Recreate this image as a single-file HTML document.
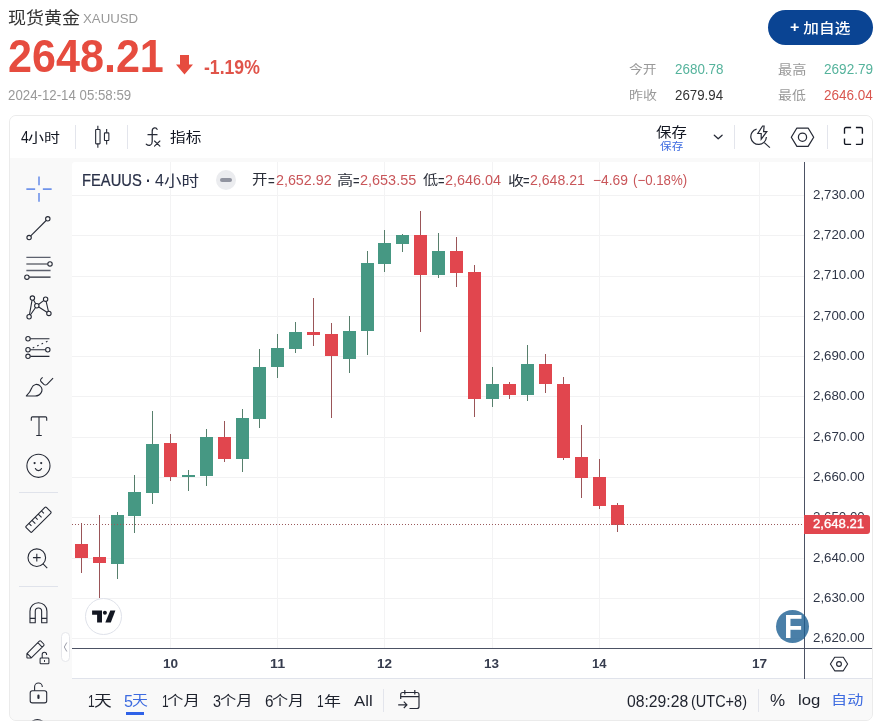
<!DOCTYPE html>
<html lang="zh-CN">
<head>
<meta charset="utf-8">
<title>现货黄金 XAUUSD</title>
<style>
*{box-sizing:border-box;margin:0;padding:0}
html,body{width:881px;height:728px;overflow:hidden;background:#fff}
body{position:relative;font-family:"Liberation Sans","Noto Sans CJK SC",sans-serif;color:#333}
.t{position:absolute;white-space:pre;transform-origin:0 0;display:block}
.btn{position:absolute;left:768px;top:10px;width:105px;height:35px;border-radius:18px;background:#0a4493}
.box{position:absolute;left:9px;top:115px;width:864px;height:606px;border:1px solid #ebebeb;border-radius:7px;background:#f9f9f9;overflow:hidden}
.tb{position:absolute;left:0;top:0;width:862px;height:42px;background:#fff}
.lt{position:absolute;left:0;top:46px;width:56px;height:560px;background:#f9f9f9;border-radius:0 4px 0 0}
.cp{position:absolute;left:62px;top:46px;width:800px;height:517px;background:#fff;border-radius:3px 0 0 0;border-bottom:1px solid #e0e3eb}
.bt{position:absolute;left:62px;top:563px;width:800px;height:42px;background:#f9f9f9}
.page{position:absolute;left:0;top:0;width:881px;height:728px;overflow:hidden}
.chart{position:absolute;left:72px;top:162px}
.ic{position:absolute;overflow:visible}
.sep{position:absolute;width:1px;background:#e3e5ec}
.hsep{position:absolute;height:1px;background:#e0e3eb}
.abs{position:absolute}
</style>
</head>
<body>
<div class="page">
<svg class="ic" style="left:176px;top:55px" width="17" height="20" viewBox="0 0 17 20"><path d="M4 0h9v9.500h4l-8.500 10L0 9.500h4z" fill="#e64c3f"/></svg>
<div class="btn"></div>

<div class="box">
 <div class="tb"></div>
 <div class="lt"></div>
 <div class="cp"></div>
 <div class="bt"></div>
</div>

<!-- toolbar separators -->
<div class="sep" style="left:75px;top:125px;height:24px"></div>
<div class="sep" style="left:127px;top:125px;height:24px"></div>
<div class="sep" style="left:734px;top:125px;height:24px"></div>
<div class="sep" style="left:827px;top:125px;height:24px"></div>
<div class="hsep" style="left:19px;top:492px;width:39px"></div>
<div class="hsep" style="left:19px;top:586px;width:39px"></div>
<div class="abs" style="left:61px;top:632px;width:9px;height:30px;border:1px solid #e6e7eb;border-radius:5px;background:#fff"></div>

<!-- chart -->
<svg class="chart" width="800" height="517" viewBox="72 162 800 517" shape-rendering="crispEdges">
<rect x="72" y="195" width="732" height="1" fill="#f2f2f3"/>
<rect x="72" y="235" width="732" height="1" fill="#f2f2f3"/>
<rect x="72" y="276" width="732" height="1" fill="#f2f2f3"/>
<rect x="72" y="316" width="732" height="1" fill="#f2f2f3"/>
<rect x="72" y="356" width="732" height="1" fill="#f2f2f3"/>
<rect x="72" y="396" width="732" height="1" fill="#f2f2f3"/>
<rect x="72" y="437" width="732" height="1" fill="#f2f2f3"/>
<rect x="72" y="477" width="732" height="1" fill="#f2f2f3"/>
<rect x="72" y="517" width="732" height="1" fill="#f2f2f3"/>
<rect x="72" y="558" width="732" height="1" fill="#f2f2f3"/>
<rect x="72" y="598" width="732" height="1" fill="#f2f2f3"/>
<rect x="72" y="638" width="732" height="1" fill="#f2f2f3"/>
<rect x="170" y="162" width="1" height="486" fill="#f3f3f4"/>
<rect x="277" y="162" width="1" height="486" fill="#f3f3f4"/>
<rect x="384" y="162" width="1" height="486" fill="#f3f3f4"/>
<rect x="492" y="162" width="1" height="486" fill="#f3f3f4"/>
<rect x="599" y="162" width="1" height="486" fill="#f3f3f4"/>
<rect x="759" y="162" width="1" height="486" fill="#f3f3f4"/>
<rect x="81" y="523" width="1" height="50" fill="#9a5558"/>
<rect x="75" y="544" width="13" height="14" fill="#e1464e"/>
<rect x="99" y="515" width="1" height="83" fill="#9a5558"/>
<rect x="93" y="557" width="13" height="6" fill="#e1464e"/>
<rect x="117" y="512" width="1" height="67" fill="#577f6c"/>
<rect x="111" y="515" width="13" height="49" fill="#469883"/>
<rect x="134" y="475" width="1" height="58" fill="#577f6c"/>
<rect x="128" y="492" width="13" height="24" fill="#469883"/>
<rect x="152" y="411" width="1" height="93" fill="#577f6c"/>
<rect x="146" y="444" width="13" height="49" fill="#469883"/>
<rect x="170" y="434" width="1" height="47" fill="#9a5558"/>
<rect x="164" y="443" width="13" height="34" fill="#e1464e"/>
<rect x="188" y="470" width="1" height="21" fill="#577f6c"/>
<rect x="182" y="475" width="13" height="2" fill="#469883"/>
<rect x="206" y="429" width="1" height="57" fill="#577f6c"/>
<rect x="200" y="437" width="13" height="39" fill="#469883"/>
<rect x="224" y="421" width="1" height="41" fill="#9a5558"/>
<rect x="218" y="437" width="13" height="22" fill="#e1464e"/>
<rect x="242" y="409" width="1" height="63" fill="#577f6c"/>
<rect x="236" y="418" width="13" height="41" fill="#469883"/>
<rect x="259" y="349" width="1" height="79" fill="#577f6c"/>
<rect x="253" y="367" width="13" height="52" fill="#469883"/>
<rect x="277" y="334" width="1" height="44" fill="#577f6c"/>
<rect x="271" y="348" width="13" height="19" fill="#469883"/>
<rect x="295" y="322" width="1" height="31" fill="#577f6c"/>
<rect x="289" y="332" width="13" height="17" fill="#469883"/>
<rect x="313" y="298" width="1" height="48" fill="#9a5558"/>
<rect x="307" y="332" width="13" height="3" fill="#e1464e"/>
<rect x="331" y="323" width="1" height="95" fill="#9a5558"/>
<rect x="325" y="334" width="13" height="22" fill="#e1464e"/>
<rect x="349" y="316" width="1" height="57" fill="#577f6c"/>
<rect x="343" y="331" width="13" height="28" fill="#469883"/>
<rect x="367" y="251" width="1" height="104" fill="#577f6c"/>
<rect x="361" y="263" width="13" height="68" fill="#469883"/>
<rect x="384" y="230" width="1" height="42" fill="#577f6c"/>
<rect x="378" y="243" width="13" height="21" fill="#469883"/>
<rect x="402" y="234" width="1" height="18" fill="#577f6c"/>
<rect x="396" y="235" width="13" height="9" fill="#469883"/>
<rect x="420" y="211" width="1" height="121" fill="#9a5558"/>
<rect x="414" y="235" width="13" height="40" fill="#e1464e"/>
<rect x="438" y="233" width="1" height="45" fill="#577f6c"/>
<rect x="432" y="251" width="13" height="24" fill="#469883"/>
<rect x="456" y="237" width="1" height="50" fill="#9a5558"/>
<rect x="450" y="251" width="13" height="22" fill="#e1464e"/>
<rect x="474" y="265" width="1" height="152" fill="#9a5558"/>
<rect x="468" y="272" width="13" height="127" fill="#e1464e"/>
<rect x="492" y="367" width="1" height="40" fill="#577f6c"/>
<rect x="486" y="384" width="13" height="15" fill="#469883"/>
<rect x="509" y="382" width="1" height="17" fill="#9a5558"/>
<rect x="503" y="384" width="13" height="11" fill="#e1464e"/>
<rect x="527" y="345" width="1" height="56" fill="#577f6c"/>
<rect x="521" y="364" width="13" height="31" fill="#469883"/>
<rect x="545" y="354" width="1" height="39" fill="#9a5558"/>
<rect x="539" y="364" width="13" height="20" fill="#e1464e"/>
<rect x="563" y="377" width="1" height="83" fill="#9a5558"/>
<rect x="557" y="384" width="13" height="74" fill="#e1464e"/>
<rect x="581" y="425" width="1" height="73" fill="#9a5558"/>
<rect x="575" y="457" width="13" height="21" fill="#e1464e"/>
<rect x="599" y="459" width="1" height="50" fill="#9a5558"/>
<rect x="593" y="477" width="13" height="29" fill="#e1464e"/>
<rect x="617" y="503" width="1" height="29" fill="#9a5558"/>
<rect x="611" y="505" width="13" height="20" fill="#e1464e"/>
<line x1="72" y1="524.5" x2="804" y2="524.5" stroke="#9a5a5c" stroke-width="1" stroke-dasharray="1 2"/>
<rect x="804" y="162" width="1" height="517" fill="#4c5264"/>
<rect x="72" y="648" width="800" height="1" fill="#4c5264"/>
</svg>

<!-- legend button -->
<div class="abs" style="left:216px;top:170px;width:20px;height:20px;border-radius:10px;background:#ebecef"></div>
<div class="abs" style="left:220px;top:178px;width:12px;height:4px;border-radius:2px;background:#9194a0"></div>



<!-- logos -->
<div class="abs" style="left:85px;top:597.5px;width:37px;height:37px;border-radius:19px;background:#fff;border:1.2px solid #dfe2ea"></div>
<svg class="ic" style="left:0;top:0" width="881" height="728" viewBox="0 0 881 728" fill="#131722"><path d="M92.100 610.600H102V622.600H97.100V614.800H92.100Z"/><circle cx="104.900" cy="612.800" r="2"/><path d="M110.300 610.600H115.400L110.800 622.600H105.300Z"/></svg>
<div class="abs" style="left:776px;top:610px;width:33px;height:33px;border-radius:17px;background:rgba(29,95,146,0.8)"></div>

<!-- bottom toolbar -->
<div class="abs" style="left:126px;top:712px;width:18px;height:3px;background:#2f62e8"></div>
<div class="sep" style="left:383px;top:689px;height:23px"></div>

<div class="sep" style="left:758px;top:689px;height:23px"></div>

<!-- icons -->
<svg class="ic" style="left:0;top:0" width="881" height="728" viewBox="0 0 881 728" fill="none" stroke="#262a36" stroke-linecap="butt" stroke-linejoin="round">
<g transform="translate(23.05 173.20) scale(1.1)" stroke-width="1.45" stroke="#6f93ea"><path d="M3 14.500h8M18 14.500h8M14.500 3v8M14.500 18v8"/></g>
<g transform="translate(23.05 212.80) scale(1.1)" stroke-width="1.0" ><path d="M7 21L21 7"/><circle cx="22.500" cy="5.500" r="2" fill="#f9f9f9"/><circle cx="5.500" cy="22.500" r="2" fill="#f9f9f9"/></g>
<g transform="translate(23.05 252.40) scale(1.1)" stroke-width="1.0" ><path d="M3 4.500h22M3 16.500h22" stroke="#5d616e" stroke-width="1.300"/><path d="M3 10.500h19.500M5.500 22.500h19.500"/><circle cx="24.500" cy="10.500" r="2" fill="#f9f9f9"/><circle cx="3.500" cy="22.500" r="2" fill="#f9f9f9"/></g>
<g transform="translate(23.05 292.00) scale(1.1)" stroke-width="1.0" ><path d="M5.500 22.500L8.500 5.500L12.500 12.500L20.500 6.500L23.500 19.500L12.500 12.500z"/><circle cx="8.500" cy="5.500" r="2" fill="#f9f9f9"/><circle cx="5.500" cy="22.500" r="2" fill="#f9f9f9"/><circle cx="12.500" cy="12.500" r="2" fill="#f9f9f9"/><circle cx="20.500" cy="6.500" r="2" fill="#f9f9f9"/><circle cx="23.500" cy="19.500" r="2" fill="#f9f9f9"/></g>
<g transform="translate(23.05 331.60) scale(1.1)" stroke-width="1.0" ><path d="M6.500 6.500H24M6.500 16.500h14M6.500 22.500H24"/><path d="M8.800 14.800l1.400-.630M12.800 13l1.400-.630M16.800 11.200l1.400-.630M20.800 9.400l1.400-.630"/><circle cx="4.500" cy="6.500" r="2" fill="#f9f9f9"/><circle cx="4.500" cy="16.500" r="2" fill="#f9f9f9"/><circle cx="22.500" cy="16.500" r="2" fill="#f9f9f9"/><circle cx="4.500" cy="22.500" r="2" fill="#f9f9f9"/></g>
<g transform="translate(23.05 371.20) scale(1.1)" stroke-width="1.0" ><path d="M3 22.500c2.200-2.200 4.100-5 5-7.500c1.100-3.300 5.400-4.200 8-1.100c2.900 3.400.100 8.600-5 8.600z"/><path d="M17.800 5.600l-1.200 1.100c-.900.800-.900 2.100-.100 2.900l2.400 2.400c.800.800 2.100.800 2.900 0l5.500-5.700"/></g>
<g transform="translate(23.05 410.80) scale(1.1)" stroke-width="1.0" ><path d="M7.500 9V6.500a1 1 0 0 1 1-1h12a1 1 0 0 1 1 1V9M14.500 5.500v17M12 22.500h5"/></g>
<g transform="translate(23.05 450.40) scale(1.1)" stroke-width="1.0" ><circle cx="14" cy="14" r="10.500"/><circle cx="10.500" cy="11.500" r="1" fill="#262a36" stroke="none"/><circle cx="16.500" cy="11.500" r="1" fill="#262a36" stroke="none"/><path d="M11.200 16.500a3 3 0 0 0 5.600 0" stroke-linecap="round"/></g>
<g transform="translate(23.05 504.30) scale(1.1)" stroke-width="1.0" ><g transform="rotate(-45 14 14)"><rect x="1" y="10.250" width="26" height="7.500" rx="1"/><path d="M5.500 10.250v3.250M9.500 10.250v4.250M13.500 10.250v3.250M17.500 10.250v4.250M21.500 10.250v3.250"/></g></g>
<g transform="translate(23.05 543.90) scale(1.1)" stroke-width="1.0" ><circle cx="12.500" cy="12.500" r="8"/><path d="M18 18l4 4M9 12.500h7M12.500 9v7"/></g>
<g transform="translate(23.05 597.80) scale(1.1)" stroke-width="1.0" ><path d="M6.300 22.700V12.200a7.700 7.700 0 0 1 15.400 0v10.500h-4.800V12.200a2.900 2.900 0 0 0-5.800 0v10.500z"/><path d="M6.300 18.700h4.800M16.900 18.700h4.800"/></g>
<g transform="translate(23.05 637.40) scale(1.1)" stroke-width="0.95" ><path d="M3.500 14.700L14.800 3.400a1 1 0 0 1 1.400 0l2.600 2.600a1 1 0 0 1 0 1.400L7.500 18.700h-3.500a.500.500 0 0 1-.500-.500zM3.700 14.600l4 4M13.400 4.800l4 4"/><rect x="15.500" y="18.800" width="8" height="5.200" rx="0.800" fill="#f9f9f9"/><path d="M17.400 18.800v-3.300a2 2 0 0 1 4 0v.600"/><path d="M19.500 20.600v1.700"/></g>
<g transform="translate(23.05 677.00) scale(1.1)" stroke-width="1.0" ><rect x="6.500" y="12.500" width="15" height="11" rx="2"/><path d="M10.500 12.500V9a3.500 3.500 0 0 1 7 0"/><path d="M14 17v2" stroke-width="2" stroke-linecap="round"/></g>
<clipPath id="cb"><rect x="10" y="700" width="60" height="20.400"/></clipPath><path d="M32.300 721.200Q37.400 717.900 42.500 721.200" stroke-width="1.200" clip-path="url(#cb)"/>
<g transform="translate(86.30 121.30) scale(1.1)" stroke-width="1.0" ><rect x="8.500" y="7.500" width="4" height="13" rx="0.500"/><path d="M10.500 4v3.500M10.500 20.500V24"/><rect x="16.500" y="10.500" width="4" height="7" rx="0.500"/><path d="M18.500 7v3.500M18.500 17.500V21"/></g>
<g stroke-width="1.250" stroke-linecap="round"><path d="M157.100 129.400C156.500 127.400 152.200 126.900 152.200 131.200V141.500C152.200 145.600 148.800 146.200 146.300 144.200"/><path d="M148 134.700H157"/><path d="M154.500 141L159.900 146.200M159.900 141L154.500 146.200" stroke-width="1.100"/></g>
<path d="M714.300 135.300L718.200 138.700L722.100 135.300" stroke-width="1.300" stroke-linecap="round"/>
<g stroke-width="1.200"><path d="M756.600 129.100A7.800 7.800 0 1 0 766.400 137"/><path d="M764.300 142.600L769.900 147.600"/><path d="M762.600 126L757.800 133.500H761.200L761.200 139.200L766.800 131.600H763.600L764.100 126Z" stroke-linejoin="miter"/></g>
<g stroke-width="1.250"><path d="M796.900 128H808.100L813.700 137.200L808.100 146.400H796.900L791.300 137.200Z"/><circle cx="802.500" cy="137.200" r="4.100"/></g>
<g stroke-width="1.350" stroke="#131722"><path d="M844.500 133.700V128.800a1.300 1.300 0 0 1 1.300-1.300H851.100M855.900 127.500H861.100a1.300 1.300 0 0 1 1.300 1.300V133.700M862.400 138.500V143a1.300 1.300 0 0 1-1.300 1.300H855.900M851.100 144.300H845.800a1.300 1.300 0 0 1-1.300-1.300V138.500"/></g>
<g stroke-width="1.150"><path d="M834.700 657.200H843.300L847.600 664L843.300 670.800H834.700L830.400 664Z"/><circle cx="839" cy="664" r="2.400"/></g>
<g stroke-width="1.200"><path d="M400.700 699V694.500a2 2 0 0 1 2-2H417a2 2 0 0 1 2 2V706.500a2 2 0 0 1-2 2H409.500"/><path d="M404.800 690V694.500M414.800 690V694.500M400.700 696.700H419"/><path d="M398.200 704.800H406.800M403.800 701.600L407 704.800L403.800 708"/></g>
<path d="M66.800 642.500L64.300 647L66.800 651.500" stroke="#9a9ca8" stroke-width="1"/>
</svg>

<!-- all text -->
<span class="t" style="left:8.01px;top:2.83px;font-size:17px;line-height:34px;color:#333;transform:scale(1.0610,0.9759);">现货黄金</span>
<span class="t" style="left:83.00px;top:6.25px;font-size:13.5px;line-height:27.0px;color:#999;transform:scale(0.9806,0.9639);">XAUUSD</span>
<span class="t" style="left:7.89px;top:9.05px;font-size:46px;line-height:92px;color:#e64c3f;font-weight:bold;transform:scale(0.9373,1.0165);">2648.21</span>
<span class="t" style="left:204.00px;top:47.65px;font-size:19px;line-height:38px;color:#e0544a;font-weight:bold;transform:scale(0.9273,1.0465);">-1.19%</span>
<span class="t" style="left:8.43px;top:81.10px;font-size:14px;line-height:28px;color:#999;transform:scale(0.9473,1.0000);">2024-12-14 05:58:59</span>
<span class="t" style="left:629.36px;top:58.44px;font-size:13.5px;line-height:27.0px;color:#999;transform:scale(1.0214,0.9081);">今开</span>
<span class="t" style="left:675.44px;top:55.20px;font-size:14px;line-height:28px;color:#55b39c;transform:scale(0.9583,1.0000);">2680.78</span>
<span class="t" style="left:628.92px;top:84.42px;font-size:13.5px;line-height:27.0px;color:#999;transform:scale(1.0327,0.9121);">昨收</span>
<span class="t" style="left:675.46px;top:81.10px;font-size:14px;line-height:28px;color:#333;transform:scale(0.9495,1.0000);">2679.94</span>
<span class="t" style="left:778.00px;top:56.98px;font-size:13.5px;line-height:27.0px;color:#999;transform:scale(1.0492,0.9422);">最高</span>
<span class="t" style="left:824.00px;top:55.20px;font-size:14px;line-height:28px;color:#55b39c;transform:scale(0.9696,1.0000);">2692.79</span>
<span class="t" style="left:778.00px;top:84.34px;font-size:13.5px;line-height:27.0px;color:#999;transform:scale(1.0279,0.9008);">最低</span>
<span class="t" style="left:824.00px;top:81.10px;font-size:14px;line-height:28px;color:#d9564f;transform:scale(0.9652,1.0000);">2646.04</span>
<span class="g"><span class="t" style="left:21.00px;top:120.95px;font-size:15px;line-height:30px;color:#131722;transform:scale(0.9326,1.1019);">4</span><span class="t" style="left:28.34px;top:125.67px;font-size:14.5px;line-height:29.0px;color:#131722;transform:scale(1.1007,0.8671);">小时</span></span>
<span class="t" style="left:170.49px;top:125.15px;font-size:14.5px;line-height:29.0px;color:#131722;transform:scale(1.0817,0.9191);">指标</span>
<span class="t" style="left:656.00px;top:118.92px;font-size:14.5px;line-height:29.0px;color:#131722;transform:scale(1.0639,0.9436);">保存</span>
<span class="t" style="left:660.00px;top:135.50px;font-size:11px;line-height:22px;color:#3d6be0;transform:scale(1.0573,0.9564);">保存</span>
<span class="g"><span class="t" style="left:82.00px;top:164.60px;font-size:17px;line-height:34px;color:#2a3148;transform:scale(0.8659,0.9350);-webkit-text-stroke:0.25px #2a3148;">FEAUUS</span><span class="t" style="left:141.80px;top:164.26px;font-size:17px;line-height:34px;color:#2a3148;font-weight:bold;transform:scale(0.8475,1.0000);"> · </span><span class="t" style="left:155.00px;top:164.60px;font-size:17px;line-height:34px;color:#2a3148;transform:scale(0.9410,0.9377);">4</span><span class="t" style="left:164.00px;top:165.79px;font-size:16px;line-height:32px;color:#2a3148;transform:scale(1.0960,0.9332);">小时</span></span>
<span class="g"><span class="t" style="left:252.36px;top:166.25px;font-size:13.5px;line-height:27.0px;color:#2a2e39;transform:scale(1.1454,0.9780);">开</span><span class="t" style="left:268.00px;top:166.50px;font-size:14.3px;line-height:28.6px;color:#2a2e39;transform:scale(0.8073,1.0000);">=</span><span class="t" style="left:276.00px;top:165.85px;font-size:14.3px;line-height:28.6px;color:#c9565a;">2,652.92</span></span>
<span class="g"><span class="t" style="left:336.96px;top:167.21px;font-size:13.5px;line-height:27.0px;color:#2a2e39;transform:scale(1.2002,0.9839);">高</span><span class="t" style="left:353.00px;top:166.50px;font-size:14.3px;line-height:28.6px;color:#2a2e39;transform:scale(0.7800,1.0000);">=</span><span class="t" style="left:360.00px;top:165.85px;font-size:14.3px;line-height:28.6px;color:#c9565a;transform:scale(1.0098,1.0000);">2,653.55</span></span>
<span class="g"><span class="t" style="left:423.00px;top:167.24px;font-size:13.5px;line-height:27.0px;color:#2a2e39;transform:scale(1.1200,0.9289);">低</span><span class="t" style="left:438.00px;top:166.50px;font-size:14.3px;line-height:28.6px;color:#2a2e39;transform:scale(0.7800,1.0000);">=</span><span class="t" style="left:445.00px;top:165.85px;font-size:14.3px;line-height:28.6px;color:#c9565a;transform:scale(1.0084,1.0000);">2,646.04</span></span>
<span class="g"><span class="t" style="left:508.00px;top:167.75px;font-size:13.5px;line-height:27.0px;color:#2a2e39;transform:scale(1.1748,0.9317);">收</span><span class="t" style="left:523.00px;top:166.50px;font-size:14.3px;line-height:28.6px;color:#2a2e39;transform:scale(0.7800,1.0000);">=</span><span class="t" style="left:530.00px;top:165.85px;font-size:14.3px;line-height:28.6px;color:#c9565a;transform:scale(0.9859,1.0000);">2,648.21</span></span>
<span class="t" style="left:593.10px;top:165.85px;font-size:14.3px;line-height:28.6px;color:#c9565a;transform:scale(0.9680,1.0000);">−4.69</span>
<span class="t" style="left:633.21px;top:165.85px;font-size:14.3px;line-height:28.6px;color:#c9565a;transform:scale(0.9267,1.0000);">(−0.18%)</span>
<span class="t" style="left:813.00px;top:182.50px;font-size:12.7px;line-height:25.4px;color:#2f3647;transform:scale(1.0469,1.0000);">2,730.00</span>
<span class="t" style="left:813.00px;top:222.80px;font-size:12.7px;line-height:25.4px;color:#2f3647;transform:scale(1.0469,1.0000);">2,720.00</span>
<span class="t" style="left:813.00px;top:263.10px;font-size:12.7px;line-height:25.4px;color:#2f3647;transform:scale(1.0469,1.0000);">2,710.00</span>
<span class="t" style="left:813.00px;top:304.15px;font-size:12.7px;line-height:25.4px;color:#2f3647;transform:scale(1.0469,1.0000);">2,700.00</span>
<span class="t" style="left:813.00px;top:343.70px;font-size:12.7px;line-height:25.4px;color:#2f3647;transform:scale(1.0469,1.0000);">2,690.00</span>
<span class="t" style="left:813.00px;top:384.00px;font-size:12.7px;line-height:25.4px;color:#2f3647;transform:scale(1.0469,1.0000);">2,680.00</span>
<span class="t" style="left:813.00px;top:424.95px;font-size:12.7px;line-height:25.4px;color:#2f3647;transform:scale(1.0469,1.0000);">2,670.00</span>
<span class="t" style="left:813.00px;top:464.60px;font-size:12.7px;line-height:25.4px;color:#2f3647;transform:scale(1.0469,1.0000);">2,660.00</span>
<span class="t" style="left:813.00px;top:504.90px;font-size:12.7px;line-height:25.4px;color:#2f3647;transform:scale(1.0469,1.0000);">2,650.00</span>
<span class="t" style="left:813.00px;top:545.75px;font-size:12.7px;line-height:25.4px;color:#2f3647;transform:scale(1.0469,1.0000);">2,640.00</span>
<span class="t" style="left:813.00px;top:585.50px;font-size:12.7px;line-height:25.4px;color:#2f3647;transform:scale(1.0469,1.0000);">2,630.00</span>
<span class="t" style="left:813.00px;top:625.80px;font-size:12.7px;line-height:25.4px;color:#2f3647;transform:scale(1.0469,1.0000);">2,620.00</span>
<span class="t" style="left:163.00px;top:649.80px;font-size:13.6px;line-height:27.2px;color:#363c4e;font-weight:bold;">10</span>
<span class="t" style="left:270.00px;top:649.80px;font-size:13.6px;line-height:27.2px;color:#363c4e;font-weight:bold;transform:scale(1.0497,1.0000);">11</span>
<span class="t" style="left:377.32px;top:649.80px;font-size:13.6px;line-height:27.2px;color:#363c4e;font-weight:bold;transform:scale(0.9916,1.0000);">12</span>
<span class="t" style="left:484.33px;top:649.80px;font-size:13.6px;line-height:27.2px;color:#363c4e;font-weight:bold;transform:scale(0.9936,1.0000);">13</span>
<span class="t" style="left:592.00px;top:649.80px;font-size:13.6px;line-height:27.2px;color:#363c4e;font-weight:bold;transform:scale(0.9597,1.0000);">14</span>
<span class="t" style="left:752.00px;top:649.80px;font-size:13.6px;line-height:27.2px;color:#363c4e;font-weight:bold;">17</span>
<span class="g"><span class="t" style="left:88.05px;top:687.30px;font-size:15.4px;line-height:30.8px;color:#1e222d;transform:scale(0.7800,1.0167);">1</span><span class="t" style="left:94.00px;top:686.75px;font-size:14.5px;line-height:29.0px;color:#1e222d;transform:scale(1.2248,0.9855);">天</span></span>
<span class="g"><span class="t" style="left:124.14px;top:687.30px;font-size:15.4px;line-height:30.8px;color:#3d6be0;transform:scale(1.0478,1.0167);">5</span><span class="t" style="left:132.10px;top:685.90px;font-size:14.5px;line-height:29.0px;color:#3d6be0;transform:scale(1.0962,0.9771);">天</span></span>
<span class="g"><span class="t" style="left:162.00px;top:687.30px;font-size:15.4px;line-height:30.8px;color:#1e222d;transform:scale(0.7800,1.0167);">1</span><span class="t" style="left:167.35px;top:687.85px;font-size:14.5px;line-height:29.0px;color:#1e222d;transform:scale(1.1322,0.9149);">个月</span></span>
<span class="g"><span class="t" style="left:213.00px;top:687.30px;font-size:15.4px;line-height:30.8px;color:#1e222d;transform:scale(0.9345,1.0167);">3</span><span class="t" style="left:220.00px;top:687.85px;font-size:14.5px;line-height:29.0px;color:#1e222d;transform:scale(1.1223,0.9146);">个月</span></span>
<span class="g"><span class="t" style="left:265.00px;top:687.30px;font-size:15.4px;line-height:30.8px;color:#1e222d;transform:scale(0.9947,1.0167);">6</span><span class="t" style="left:272.04px;top:687.85px;font-size:14.5px;line-height:29.0px;color:#1e222d;transform:scale(1.1104,0.9149);">个月</span></span>
<span class="g"><span class="t" style="left:317.25px;top:687.30px;font-size:15.4px;line-height:30.8px;color:#1e222d;transform:scale(0.7800,1.0167);">1</span><span class="t" style="left:324.00px;top:687.79px;font-size:14.5px;line-height:29.0px;color:#1e222d;transform:scale(1.1682,0.9211);">年</span></span>
<span class="t" style="left:354.00px;top:687.15px;font-size:15.4px;line-height:30.8px;color:#1e222d;transform:scale(1.0893,0.9505);">All</span>
<span class="g"><span class="t" style="left:627.00px;top:685.70px;font-size:15.6px;line-height:31.2px;color:#1e222d;transform:scale(1.0077,1.0000);">08:29:28</span><span class="t" style="left:687.37px;top:685.70px;font-size:15.6px;line-height:31.2px;color:#1e222d;transform:scale(0.9288,1.0000);"> (UTC+8)</span></span>
<span class="t" style="left:770.49px;top:686.30px;font-size:15.4px;line-height:30.8px;color:#1e222d;transform:scale(1.1028,1.0146);">%</span>
<span class="t" style="left:798.00px;top:686.00px;font-size:15.4px;line-height:30.8px;color:#1e222d;transform:scale(1.0852,0.9443);">log</span>
<span class="t" style="left:830.74px;top:687.20px;font-size:14.5px;line-height:29.0px;color:#3d6be0;transform:scale(1.1143,0.8752);">自动</span>
<span class="g"><span class="t" style="left:790.00px;top:11.03px;font-size:15.5px;line-height:31.0px;color:#fff;font-weight:bold;transform:scale(1.0353,1.0000);">+</span><span class="t" style="left:799.25px;top:15.20px;font-size:15px;line-height:30px;color:#fff;font-weight:500;transform:scale(1.0428,0.8817);"> 加自选</span></span>
<span class="t" style="left:783.70px;top:595.00px;font-size:30px;line-height:60px;color:#fff;font-weight:bold;transform:scale(1.0119,1.0833);">F</span>

<!-- price tag -->
<div class="abs" style="left:804px;top:515px;width:66px;height:19px;background:#e1464e;border-radius:0 3px 3px 0"></div>
<span class="t" style="left:813.00px;top:511.10px;font-size:12.8px;line-height:25.6px;color:#fff;transform:scale(1.0274,1.0000);-webkit-text-stroke:0.35px #fff;">2,648.21</span>
</div>
</body>
</html>
